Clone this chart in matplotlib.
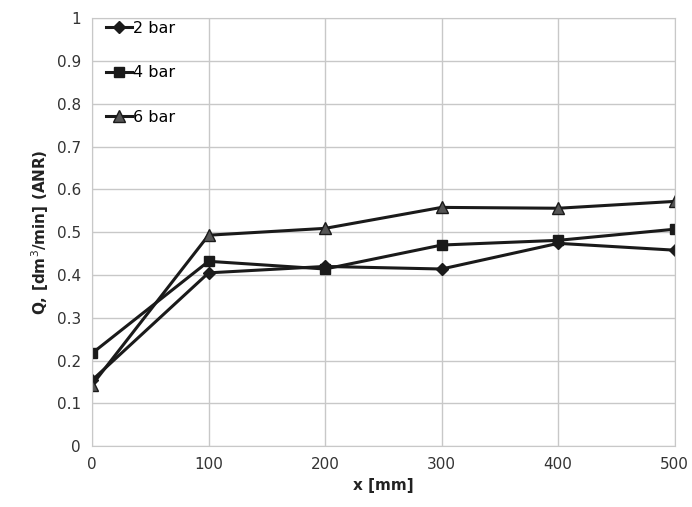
import matplotlib
matplotlib.use("Agg")
import matplotlib.pyplot as plt

x_mm = [0, 100, 200, 300, 400, 500]
q_2bar = [0.154, 0.405, 0.420, 0.414, 0.474, 0.458]
q_4bar = [0.217, 0.432, 0.414, 0.470, 0.481, 0.507]
q_6bar = [0.143, 0.493, 0.509, 0.558, 0.556, 0.572]
labels = ["2 bar", "4 bar", "6 bar"]

fig = plt.figure(figsize=(6.92, 5.07), dpi=100)
ax = fig.add_axes([0.133, 0.120, 0.842, 0.844])

ax.plot(x_mm, q_2bar, color="#1a1a1a", lw=2.2, marker="D", ms=6, label=labels[0])
ax.plot(x_mm, q_4bar, color="#1a1a1a", lw=2.2, marker="s", ms=7, label=labels[1])
ax.plot(x_mm, q_6bar, color="#1a1a1a", lw=2.2, marker="^", ms=8,
        markerfacecolor="#555555", label=labels[2])

ax.set_xlim(0, 500)
ax.set_ylim(0, 1)
ax.set_xticks([0, 100, 200, 300, 400, 500])
ax.set_yticks([i / 10 for i in range(11)])
ax.set_yticklabels(["0", "0.1", "0.2", "0.3", "0.4", "0.5", "0.6", "0.7", "0.8", "0.9", "1"])
ax.grid(True, color="#c8c8c8", lw=1.0)
ax.set_axisbelow(True)
for s in ax.spines.values():
    s.set_color("#c8c8c8")
ax.tick_params(length=0, labelsize=11, labelcolor="#333333", pad=8)

ax.set_xlabel("x [mm]", fontsize=11, fontweight="bold", color="#222222")
ax.set_ylabel("Q, [dm$^3$/min] (ANR)", fontsize=11, fontweight="bold", color="#222222")

ax.legend(loc="upper left", bbox_to_anchor=(0.005, 1.02), frameon=False,
          fontsize=11.5, handlelength=1.6, handletextpad=0.1, labelspacing=1.85,
          borderaxespad=0.3)

fig.savefig("out.png", dpi=100)
